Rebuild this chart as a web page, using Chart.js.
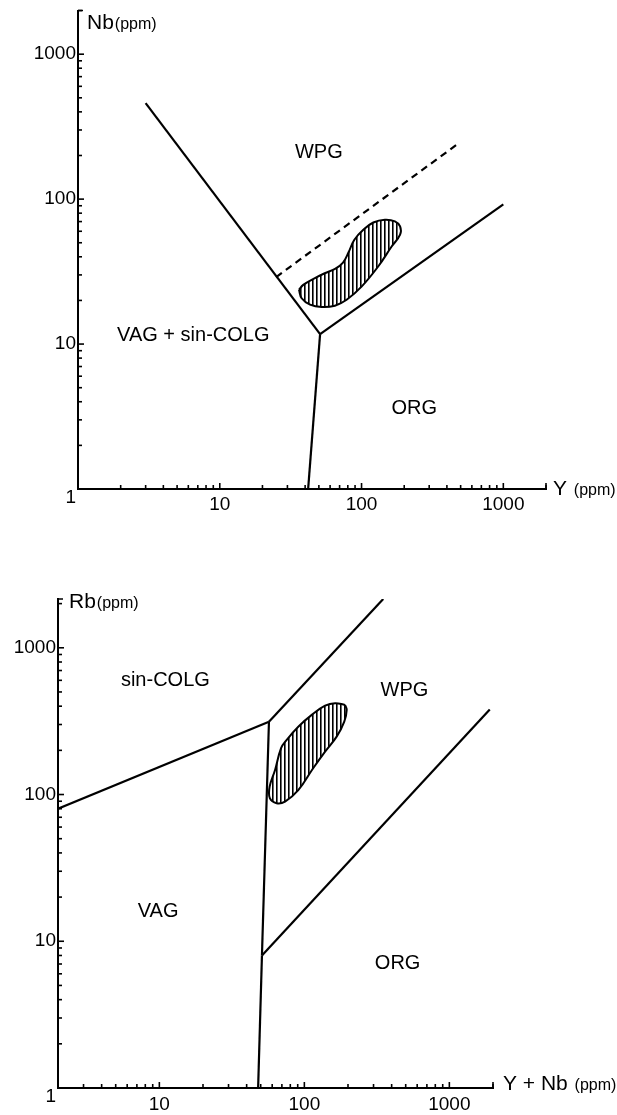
<!DOCTYPE html>
<html>
<head>
<meta charset="utf-8">
<script src="https://cdn.jsdelivr.net/npm/chart.js@4.4.0/dist/chart.umd.min.js"></script>
<style>
  body { margin: 0; background: #fff; }
  canvas { position: absolute; left: 0; }
  #nbY { top: 0; }
  #rbYNb { top: 540px; }
</style>
</head>
<body>
<canvas id="nbY" width="617" height="540"></canvas>
<canvas id="rbYNb" width="617" height="575"></canvas>
<script>
// ---- Nb vs Y diagram ----
const nbTickLabels = [1, 10, 100, 1000];
const yTickLabels = [10, 100, 1000];

const wpgVagY = [3, 51];
const wpgVagNb = [460, 11.7];
const vagOrgY = [42, 51];
const vagOrgNb = [1, 11.7];
const wpgOrgY = [51, 1000];
const wpgOrgNb = [11.7, 92];
const ridgeY = [25, 490];          // dashed line
const ridgeNb = [29, 245];
const fieldY = [36.2, 37.8, 43.3, 52.3, 64.9, 78.5, 100, 131, 163, 187, 187, 172, 146, 121, 103, 89, 81, 74, 65, 55, 46.9, 38.8];
const fieldNb = [23.7, 20.7, 18.7, 18.0, 18.4, 20.2, 24.9, 34.3, 47.1, 56.8, 64.8, 70.2, 72.1, 69.0, 61.5, 52.5, 43, 36.5, 33, 30.8, 28.5, 25.6];

const nbRegionNames = ['WPG', 'VAG + sin-COLG', 'ORG'];
const nbRegionY = [50, 6.5, 235];
const nbRegionNb = [210, 11.4, 3.6];

// ---- Rb vs Y+Nb diagram ----
const rbTickLabels = [1, 10, 100, 1000];
const ynbTickLabels = [10, 100, 1000];

const colgVagYNb = [2, 57];
const colgVagRb = [80, 313];
const colgWpgYNb = [57, 350];
const colgWpgRb = [313, 2150];
const vagWpgYNb = [57, 51];
const vagWpgRb = [313, 8];
const vagOrgYNb = [51, 48];
const vagOrgRb = [8, 1];
const orgWpgYNb = [51, 1900];
const orgWpgRb = [8, 380];
const field2YNb = [190.7, 196, 188.5, 167, 139, 115, 90.8, 73.6, 64.4, 57.8, 57.6, 62.8, 69.1, 75.6, 90.8, 112.5, 139, 163];
const field2Rb = [408, 378, 314, 248, 196, 151, 107, 89.5, 87.2, 94.4, 113, 147, 207, 236, 290, 349, 403, 419];

const rbRegionNames = ['sin-COLG', 'WPG', 'VAG', 'ORG'];
const rbRegionYNb = [11, 490, 9.8, 440];
const rbRegionRb = [600, 515, 16, 7.1];

const ink = '#000';
const fam = '"Liberation Sans", Arial, sans-serif';

function hatch() {
  const c = document.createElement('canvas');
  c.width = 4; c.height = 4;
  const g = c.getContext('2d');
  g.fillStyle = ink;
  g.fillRect(0, 0, 1, 4);
  g.fillStyle = '#666';
  g.fillRect(1, 0, 1, 4);
  return g.createPattern(c, 'repeat');
}

function pts(xs, ys) {
  return xs.map((x, i) => ({ x: x, y: ys[i] }));
}

function line(xs, ys, dash) {
  return { data: pts(xs, ys), showLine: true, borderColor: ink, borderWidth: 2.2,
           borderDash: dash || [], pointRadius: 0, fill: false };
}

function field(xs, ys) {
  const d = pts(xs, ys);
  d.push(d[0]);
  return { data: d, showLine: true, borderColor: ink, borderWidth: 2, tension: 0.4,
           backgroundColor: hatch(), fill: 'shape', pointRadius: 0 };
}

function title(ctx, parts, x, y) {
  ctx.textAlign = 'left';
  ctx.textBaseline = 'alphabetic';
  ctx.font = '21px ' + fam;
  ctx.fillText(parts[0], x, y);
  x += ctx.measureText(parts[0]).width + 1;
  ctx.font = '16px ' + fam;
  ctx.fillText(parts[1], x, y);
}

// inward log ticks, axis end hooks, field names and axis titles
const decor = {
  id: 'decor',
  afterDraw(chart, args, o) {
    const { ctx, chartArea: a, scales } = chart;
    ctx.save();
    ctx.strokeStyle = ink;
    ctx.fillStyle = ink;
    ctx.lineWidth = 1.6;
    [scales.x, scales.y].forEach(s => {
      const horiz = s.isHorizontal();
      for (let e = Math.floor(Math.log10(s.min)); e <= Math.ceil(Math.log10(s.max)); e++) {
        for (let k = 1; k < 10; k++) {
          const v = k * Math.pow(10, e);
          if (v < s.min * 0.999 || v > s.max * 1.001) continue;
          const p = s.getPixelForValue(v), len = k === 1 ? 6 : 4;
          ctx.beginPath();
          if (horiz) { ctx.moveTo(p, a.bottom); ctx.lineTo(p, a.bottom - len); }
          else { ctx.moveTo(a.left, p); ctx.lineTo(a.left + len, p); }
          ctx.stroke();
        }
      }
    });
    ctx.beginPath();
    ctx.moveTo(a.left, a.top); ctx.lineTo(a.left + 5, a.top);
    ctx.moveTo(a.right, a.bottom); ctx.lineTo(a.right, a.bottom - 6);
    ctx.stroke();

    ctx.textAlign = 'center';
    ctx.textBaseline = 'middle';
    ctx.font = '20px ' + fam;
    o.names.forEach((n, i) => {
      ctx.fillText(n, scales.x.getPixelForValue(o.xs[i]), scales.y.getPixelForValue(o.ys[i]));
    });

    title(ctx, o.yTitle, a.left + o.yTitleAt[0], a.top + o.yTitleAt[1]);
    title(ctx, o.xTitle, a.right + o.xTitleAt[0], a.bottom + o.xTitleAt[1]);
    ctx.restore();
  }
};

function diagram(id, cfg) {
  return new Chart(document.getElementById(id), {
    type: 'scatter',
    data: { datasets: cfg.datasets },
    options: {
      responsive: false,
      animation: false,
      layout: { padding: { top: cfg.top, right: cfg.right, left: 0, bottom: 0 } },
      plugins: {
        legend: { display: false },
        tooltip: { enabled: false },
        decor: cfg.decor
      },
      scales: {
        x: {
          type: 'logarithmic', min: cfg.xMin, max: cfg.xMax,
          grid: { display: false, drawTicks: false },
          border: { display: true, color: ink, width: 2 },
          ticks: {
            autoSkip: false, maxRotation: 0, padding: cfg.xPad, color: ink,
            font: { family: fam, size: 19, lineHeight: 1.2 },
            callback: v => cfg.xLabels.includes(v) ? String(v) : ''
          },
          afterFit: s => { s.height = cfg.xHeight; }
        },
        y: {
          type: 'logarithmic', min: 1, max: cfg.yMax,
          grid: { display: false, drawTicks: false },
          border: { display: true, color: ink, width: 2 },
          ticks: {
            autoSkip: false, padding: 2, color: ink,
            font: { family: fam, size: 19, lineHeight: 0.9 },
            callback: v => cfg.yLabels.includes(v) ? (v === 1 ? ['', '1'] : String(v)) : ''
          },
          afterFit: s => { s.width = cfg.yWidth; }
        }
      }
    },
    plugins: [decor]
  });
}

diagram('nbY', {
  datasets: [
    line(wpgVagY, wpgVagNb),
    line(vagOrgY, vagOrgNb),
    line(wpgOrgY, wpgOrgNb),
    line(ridgeY, ridgeNb, [7, 5]),
    field(fieldY, fieldNb)
  ],
  xMin: 1, xMax: 2000, yMax: 2000,
  xLabels: yTickLabels, yLabels: nbTickLabels,
  top: 8, right: 71, xHeight: 51, yWidth: 78, xPad: 4,
  decor: {
    names: nbRegionNames, xs: nbRegionY, ys: nbRegionNb,
    yTitle: ['Nb', '(ppm)'], yTitleAt: [9, 18],
    xTitle: ['Y ', '(ppm)'], xTitleAt: [7, 6]
  }
});

diagram('rbYNb', {
  datasets: [
    line(colgVagYNb, colgVagRb),
    line(colgWpgYNb, colgWpgRb),
    line(vagWpgYNb, vagWpgRb),
    line(vagOrgYNb, vagOrgRb),
    line(orgWpgYNb, orgWpgRb),
    field(field2YNb, field2Rb)
  ],
  xMin: 2, xMax: 2000, yMax: 2150,
  xLabels: ynbTickLabels, yLabels: rbTickLabels,
  top: 59, right: 124, xHeight: 27, yWidth: 58, xPad: 5,
  decor: {
    names: rbRegionNames, xs: rbRegionYNb, ys: rbRegionRb,
    yTitle: ['Rb', '(ppm)'], yTitleAt: [11, 9],
    xTitle: ['Y + Nb ', '(ppm)'], xTitleAt: [10, 2]
  }
});
</script>
</body>
</html>
